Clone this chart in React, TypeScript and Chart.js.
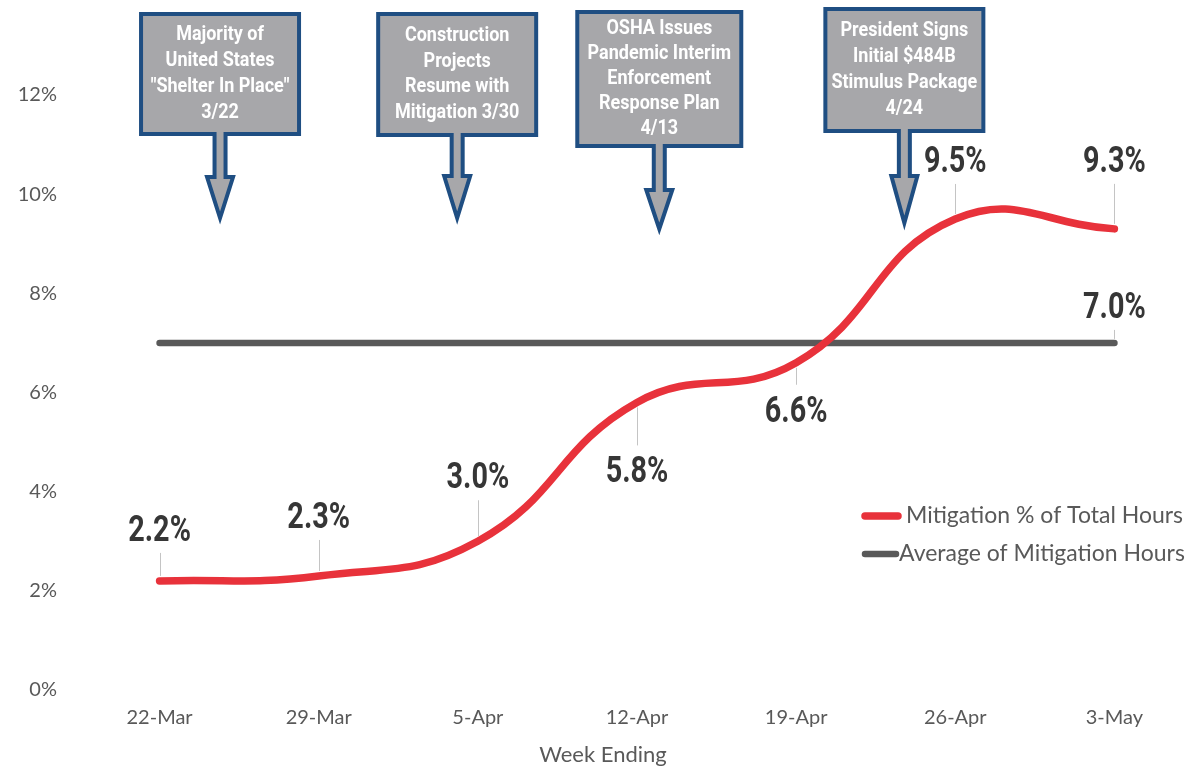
import React, { useEffect, useRef } from "react";
import { Chart, registerables } from "chart.js";

Chart.register(...registerables);

// ---------- data ----------
const weeks = ["22-Mar", "29-Mar", "5-Apr", "12-Apr", "19-Apr", "26-Apr", "3-May"];
const mitigationPct = [2.2, 2.3, 3.0, 5.8, 6.6, 9.5, 9.3];
const averagePct = [7.0, 7.0, 7.0, 7.0, 7.0, 7.0, 7.0];
const yTicks = [0, 2, 4, 6, 8, 10, 12];
const seriesNames = ["Mitigation % of Total Hours", "Average of Mitigation Hours"];
const axisTitle = "Week Ending";
const eventTexts = [
  ["Majority of", "United States", "\"Shelter In Place\"", "3/22"],
  ["Construction", "Projects", "Resume with", "Mitigation 3/30"],
  ["OSHA Issues", "Pandemic Interim", "Enforcement", "Response Plan", "4/13"],
  ["President Signs", "Initial $484B", "Stimulus Package", "4/24"],
];
// position of each event along the week axis (fractional category index)
const eventAt = [0.38, 1.87, 3.14, 4.68];

// ---------- layout / style config ----------
const RED = "#e8323b";
const GRAY = "#595959";
const BOX_FILL = "#a7a7aa";
const BOX_BORDER = "#1f4e82";
const LABEL_FONT = "bold 36px Roboto";
const LABEL_SX = 0.8;
const BOX_FONT = "bold 20px Roboto";
const BOX_SX = 0.9;
// baseline offsets (px) of value labels relative to their points
const labelOffsets = [-40, -48, -53, 80, 59, -47, -57];
const avgLabelOffset = -25;
// callout geometry
const callouts = [
  { w: 162, top: 12, bottom: 136, headTop: 175, tip: 222, lh: 26 },
  { w: 162, top: 12, bottom: 137, headTop: 174, tip: 222, lh: 25.5 },
  { w: 168, top: 10, bottom: 148, headTop: 188, tip: 233, lh: 25 },
  { w: 162, top: 7, bottom: 133, headTop: 174, tip: 227, lh: 26 },
];

function drawText(ctx: CanvasRenderingContext2D, text: string, x: number, y: number, font: string, sx: number, color: string, align: CanvasTextAlign = "center", baseline: CanvasTextBaseline = "alphabetic") {
  ctx.save();
  ctx.font = font;
  ctx.fillStyle = color;
  ctx.textAlign = align;
  ctx.textBaseline = baseline;
  ctx.translate(x, y);
  ctx.scale(sx, 1);
  ctx.fillText(text, 0, 0);
  ctx.restore();
}

function leader(ctx: CanvasRenderingContext2D, x: number, y1: number, y2: number) {
  ctx.save();
  ctx.strokeStyle = "#c4c4c4";
  ctx.lineWidth = 1;
  ctx.beginPath();
  ctx.moveTo(Math.round(x) + 0.5, y1);
  ctx.lineTo(Math.round(x) + 0.5, y2);
  ctx.stroke();
  ctx.restore();
}

const overlayPlugin = {
  id: "overlay",
  afterDatasetsDraw(chart: any) {
    const ctx: CanvasRenderingContext2D = chart.ctx;
    const xs = chart.scales.x;
    const ys = chart.scales.y;
    const CAP = 25;

    // value labels with leader lines
    mitigationPct.forEach((v, i) => {
      const px = xs.getPixelForValue(i);
      const py = ys.getPixelForValue(v);
      const off = labelOffsets[i];
      const base = py + off;
      if (off < 0) leader(ctx, px, base + 12, py - 5);
      else leader(ctx, px, py + 5, base - CAP - 12);
      drawText(ctx, `${v.toFixed(1)}%`, px, base, LABEL_FONT, LABEL_SX, "#363636");
    });
    {
      const i = averagePct.length - 1;
      const px = xs.getPixelForValue(i);
      const py = ys.getPixelForValue(averagePct[i]);
      const base = py + avgLabelOffset;
      leader(ctx, px, base + 12, py - 4);
      drawText(ctx, `${averagePct[i].toFixed(1)}%`, px, base, LABEL_FONT, LABEL_SX, "#363636");
    }

    // callouts
    const step = xs.getPixelForValue(1) - xs.getPixelForValue(0);
    const x0 = xs.getPixelForValue(0);
    callouts.forEach((c, k) => {
      const cx = x0 + eventAt[k] * step;
      const hw = c.w / 2 - 2;
      const top = c.top + 2;
      const bottom = c.bottom - 2;
      const stem = 5.5;
      const head = 13;
      const headTop = c.headTop + 2;
      const tip = c.tip - 4;
      ctx.save();
      ctx.beginPath();
      ctx.moveTo(cx - hw, top);
      ctx.lineTo(cx + hw, top);
      ctx.lineTo(cx + hw, bottom);
      ctx.lineTo(cx + stem, bottom);
      ctx.lineTo(cx + stem, headTop);
      ctx.lineTo(cx + head, headTop);
      ctx.lineTo(cx, tip);
      ctx.lineTo(cx - head, headTop);
      ctx.lineTo(cx - stem, headTop);
      ctx.lineTo(cx - stem, bottom);
      ctx.lineTo(cx - hw, bottom);
      ctx.closePath();
      ctx.fillStyle = BOX_FILL;
      ctx.fill();
      ctx.lineWidth = 4;
      ctx.lineJoin = "miter";
      ctx.strokeStyle = BOX_BORDER;
      ctx.stroke();
      ctx.restore();

      const lines = eventTexts[k];
      const mid = (c.top + c.bottom) / 2;
      const startY = mid - ((lines.length - 1) * c.lh) / 2;
      lines.forEach((t, j) => {
        drawText(ctx, t, cx, startY + j * c.lh, BOX_FONT, BOX_SX, "#ffffff", "center", "middle");
      });
    });

    // legend
    ctx.save();
    ctx.lineCap = "round";
    ctx.lineWidth = 7.5;
    ctx.strokeStyle = RED;
    ctx.beginPath();
    ctx.moveTo(865, 516);
    ctx.lineTo(898, 516);
    ctx.stroke();
    ctx.lineWidth = 6.5;
    ctx.strokeStyle = GRAY;
    ctx.beginPath();
    ctx.moveTo(865, 554);
    ctx.lineTo(896, 554);
    ctx.stroke();
    ctx.restore();
    drawText(ctx, seriesNames[0], 906, 516, "23px Lato", 1, GRAY, "left", "middle");
    drawText(ctx, seriesNames[1], 899, 554, "23px Lato", 1, GRAY, "left", "middle");

    // axis title
    drawText(ctx, axisTitle, 603, 755, "22px Lato", 1, GRAY, "center", "middle");
  },
};

export default function App() {
  const ref = useRef<HTMLCanvasElement | null>(null);
  useEffect(() => {
    if (!ref.current) return;
    const chart = new Chart(ref.current, {
      type: "line",
      data: {
        labels: weeks,
        datasets: [
          {
            label: seriesNames[0],
            data: mitigationPct,
            borderColor: RED,
            backgroundColor: RED,
            borderWidth: 7.5,
            borderCapStyle: "round",
            tension: 0.45,
            pointRadius: 0,
            clip: false as any,
          },
          {
            label: seriesNames[1],
            data: averagePct,
            borderColor: GRAY,
            backgroundColor: GRAY,
            borderWidth: 6.5,
            borderCapStyle: "round",
            tension: 0,
            pointRadius: 0,
            clip: false as any,
          },
        ],
      },
      options: {
        animation: false,
        responsive: true,
        maintainAspectRatio: false,
        layout: { padding: { top: 95, right: 1, left: 0, bottom: 0 } },
        plugins: { legend: { display: false }, tooltip: { enabled: false } },
        scales: {
          x: {
            offset: true,
            grid: { display: false, drawTicks: false },
            border: { display: false },
            ticks: { color: GRAY, font: { family: "Lato", size: 20 }, padding: 16, maxRotation: 0 },
            afterFit: (s: any) => { s.height = 78; },
          },
          y: {
            min: 0,
            max: 12,
            grid: { display: false, drawTicks: false },
            border: { display: false },
            ticks: {
              color: GRAY,
              font: { family: "Lato", size: 20 },
              padding: 23,
              callback: (v: any) => `${v}%`,
            },
            afterBuildTicks: (s: any) => { s.ticks = yTicks.map((v) => ({ value: v })); },
            afterFit: (s: any) => { s.width = 80; },
          },
        },
      },
      plugins: [overlayPlugin],
    });
    return () => chart.destroy();
  }, []);
  return (
    <div style={{ position: "absolute", left: 0, top: 0, width: 1195, height: 768, background: "#fff" }}>
      <canvas ref={ref} />
    </div>
  );
}
